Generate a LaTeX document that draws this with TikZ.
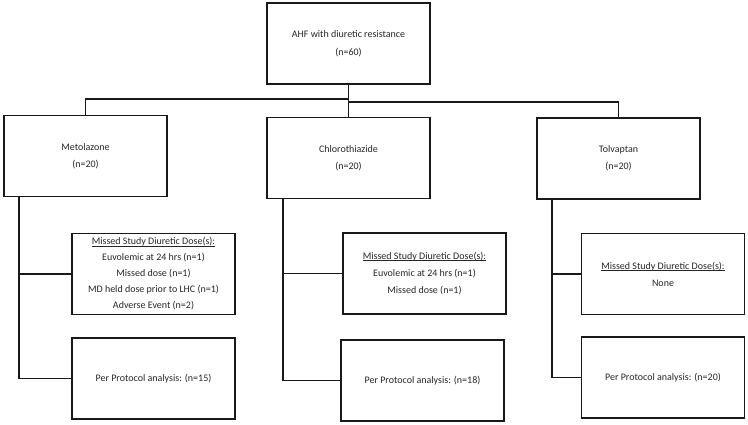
\documentclass[tikz,border=0pt]{standalone}
\usepackage{fontspec}
\setmainfont{Carlito}
\newcommand\myul[1]{\setbox0\hbox{#1}\rlap{\rule[-1.6pt]{\wd0}{0.6pt}}\box0}
\begin{document}
\begin{tikzpicture}[x=1pt,y=-1pt,
  box/.style={draw=black!90, line width=1.8pt, minimum width=163pt, minimum height=81pt,
    align=center, inner sep=2pt, text=black!85, font=\fontsize{10}{16}\selectfont},
  conn/.style={draw=black!90, line width=1.8pt}]
\useasboundingbox (0,0) rectangle (748,425);
\node[box, font=\fontsize{10}{18}\selectfont] (top) at (348.5,43.5) {AHF with diuretic resistance\\(n=60)};
\node[box, font=\fontsize{10}{17}\selectfont] (met) at (85.5,156) {Metolazone\\(n=20)};
\node[box, font=\fontsize{10}{17}\selectfont] (chl) at (348.5,158) {Chlorothiazide\\(n=20)};
\node[box, font=\fontsize{10}{17}\selectfont] (tol) at (618.5,158.5) {Tolvaptan\\(n=20)};
\node[box] (ms1) at (153.5,274) {\myul{Missed Study Diuretic Dose(s):}\\Euvolemic at 24 hrs (n=1)\\Missed dose (n=1)\\MD held dose prior to LHC (n=1)\\Adverse Event (n=2)};
\node[box, font=\fontsize{10}{17}\selectfont] (ms2) at (424.5,273.5) {\myul{Missed Study Diuretic Dose(s):}\\Euvolemic at 24 hrs (n=1)\\Missed dose (n=1)};
\node[box, font=\fontsize{10}{17}\selectfont] (ms3) at (663,274) {\myul{Missed Study Diuretic Dose(s):}\\None};
\node[box] (pp1) at (153.5,378.5) {Per Protocol analysis: (n=15)};
\node[box] (pp2) at (422.5,380.5) {Per Protocol analysis: (n=18)};
\node[box] (pp3) at (663,377.5) {Per Protocol analysis: (n=20)};
\coordinate (jl) at (348.5,99);
\coordinate (jr) at (348.5,102);
\draw[conn] (top.south) -- (chl.north);
\draw[conn] (met.north) |- (jl);
\draw[conn] (tol.north) |- (jr);
\coordinate (s1) at ([xshift=16pt]met.south west);
\coordinate (s2) at ([xshift=17pt]chl.south west);
\coordinate (s3) at ([xshift=16pt]tol.south west);
\draw[conn] (s1) |- (pp1.west);
\draw[conn] (s1 |- ms1.west) -- (ms1.west);
\draw[conn] (s2) |- (pp2.west);
\draw[conn] (s2 |- ms2.west) -- (ms2.west);
\draw[conn] (s3) |- (pp3.west);
\draw[conn] (s3 |- ms3.west) -- (ms3.west);
\end{tikzpicture}
\end{document}
